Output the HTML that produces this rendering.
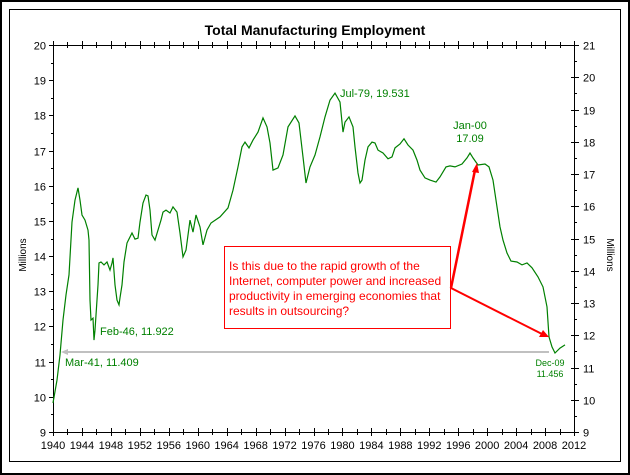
<!DOCTYPE html>
<html><head><meta charset="utf-8">
<style>
html,body{margin:0;padding:0;background:#fff;}
svg{display:block;font-family:"Liberation Sans",Arial,sans-serif;}
</style></head>
<body>
<svg id="chart" width="630" height="475" viewBox="0 0 630 475">
  <rect x="1" y="1" width="628" height="473" fill="#fff" stroke="#000" stroke-width="2"/>
  <rect x="9.5" y="9.5" width="611" height="452" fill="#fff" stroke="#000" stroke-width="1"/>
  <text x="315" y="35" text-anchor="middle" font-size="14" font-weight="bold">Total Manufacturing Employment</text>
  <text transform="translate(26,255) rotate(-90)" text-anchor="middle" font-size="10">Millions</text>
  <text transform="translate(607,255) rotate(90)" text-anchor="middle" font-size="10">Millions</text>
  <g id="axes"></g>
  <path id="series" fill="none" stroke="#008000" stroke-width="1.2"/>
  <g id="annot">
    <line x1="66" y1="352" x2="549" y2="352" stroke="#c0c0c0" stroke-width="2"/>
    <polygon points="61,352 68,349 68,355" fill="#c0c0c0"/>
    <text x="65" y="366" font-size="11" fill="#008000">Mar-41, 11.409</text>
    <text x="100" y="335" font-size="11" fill="#008000">Feb-46, 11.922</text>
    <text x="340" y="97" font-size="11" fill="#008000">Jul-79, 19.531</text>
    <text x="470" y="129" font-size="11" fill="#008000" text-anchor="middle">Jan-00</text>
    <text x="470" y="142" font-size="11" fill="#008000" text-anchor="middle">17.09</text>
    <text x="550" y="366" font-size="9" fill="#008000" text-anchor="middle">Dec-09</text>
    <text x="550" y="377" font-size="9" fill="#008000" text-anchor="middle">11.456</text>
    <rect x="224.5" y="246.5" width="226" height="82" fill="#fff" stroke="#ff0000" stroke-width="1"/>
    <text font-size="12" fill="#ff0000">
      <tspan x="229" y="270">Is this due to the rapid growth of the</tspan>
      <tspan x="229" y="285">Internet, computer power and increased</tspan>
      <tspan x="229" y="300">productivity in emerging economies that</tspan>
      <tspan x="229" y="315">results in outsourcing?</tspan>
    </text>
    <line x1="451" y1="288" x2="475" y2="170" stroke="#ff0000" stroke-width="2.5"/>
    <polygon points="477,163 472,172 479,173" fill="#ff0000"/>
    <line x1="451" y1="288" x2="542" y2="334" stroke="#ff0000" stroke-width="2"/>
    <polygon points="549,337 539,337 543,330" fill="#ff0000"/>
  </g>
</svg>
<script>
const years = [1940.0,1940.55,1940.97,1941.38,1941.8,1942.21,1942.63,1943.04,1943.46,1943.73,1944.01,1944.42,1944.84,1944.98,1945.11,1945.25,1945.53,1945.67,1945.8,1946.22,1946.36,1946.63,1947.05,1947.46,1947.88,1948.15,1948.29,1948.57,1948.84,1949.12,1949.26,1949.54,1949.81,1950.23,1950.92,1951.33,1951.75,1952.02,1952.44,1952.85,1953.13,1953.41,1953.68,1954.1,1954.51,1954.93,1955.2,1955.62,
1956.17,1956.58,1957.14,1957.55,1957.97,1958.38,1958.93,1959.35,1959.76,1960.32,1960.73,1961.28,1961.84,1963.08,1964.18,1964.88,1965.57,1966.12,1966.53,1967.09,1967.64,1968.33,1969.02,1969.57,1969.99,1970.4,1971.09,1971.79,1972.48,1973.44,1974.0,1974.55,1974.96,1975.52,1976.21,1976.9,1977.59,1978.28,1978.97,1979.66,1980.08,1980.35,1980.91,1981.46,1981.74,1982.15,1982.43,1982.7,1983.12,1983.53,1984.09,1984.5,1984.91,1985.61,1986.3,1986.85,1987.26,1987.95,1988.51,1989.06,1989.75,1990.3,1990.72,1991.41,1992.1,1992.93,1993.48,1994.31,1994.86,1995.56,1996.52,1997.21,1997.63,1998.04,1998.73,1999.7,2000.25,2000.81,2001.36,2001.78,2002.19,2002.74,2003.3,2004.12,2004.82,2005.51,2006.2,2007.03,2007.72,2008.27,2008.55,2008.96,2009.38,2010.07,2010.76];
const employment = [9.9,10.61,11.39,12.47,13.25,13.87,15.51,16.19,16.57,16.19,15.73,15.57,15.26,14.95,13.09,12.47,12.53,11.85,12.16,13.56,14.24,14.27,14.18,14.27,14.02,14.24,14.4,13.56,13.09,12.94,13.16,13.56,14.27,14.86,15.17,14.98,15.01,15.51,16.1,16.35,16.32,15.88,15.11,14.95,15.26,15.57,15.82,15.88,
15.79,15.98,15.82,15.17,14.43,14.64,15.57,15.2,15.73,15.36,14.8,15.26,15.48,15.67,15.95,16.5,17.22,17.84,17.99,17.81,18.05,18.3,18.74,18.46,17.96,17.12,17.19,17.59,18.46,18.8,18.58,17.53,16.72,17.22,17.59,18.15,18.77,19.29,19.51,19.23,18.3,18.61,18.77,18.46,17.84,17.03,16.72,16.81,17.43,17.84,17.99,17.96,17.74,17.65,17.47,17.53,17.81,17.93,18.09,17.9,17.74,17.43,17.12,16.88,16.81,16.75,16.91,17.22,17.25,17.22,17.31,17.5,17.65,17.5,17.28,17.31,17.22,16.81,15.98,15.36,14.95,14.55,14.3,14.27,14.18,14.24,14.09,13.81,13.5,12.88,11.95,11.64,11.45,11.6,11.7];
const xTickLabels = [1940,1944,1948,1952,1956,1960,1964,1968,1972,1976,1980,1984,1988,1992,1996,2000,2004,2008,2012];
const leftTickLabels = [9,10,11,12,13,14,15,16,17,18,19,20];
const rightTickLabels = [9,10,11,12,13,14,15,16,17,18,19,20,21];

const L=53,R=574,T=45,B=432;
const xs = y => L + (y-1940)/(2012-1940)*(R-L);
const yl = v => B - (v-9)/(20-9)*(B-T);
const yr = v => B - (v-9)/(21-9)*(B-T);
const NS='http://www.w3.org/2000/svg';
const ax=document.getElementById('axes');
function ln(x1,y1,x2,y2,name){
  const e=document.createElementNS(NS,'line');
  e.setAttribute('x1',x1);e.setAttribute('y1',y1);e.setAttribute('x2',x2);e.setAttribute('y2',y2);
  e.setAttribute('stroke','#000');e.setAttribute('stroke-width','1');
  
  
  ax.appendChild(e);return e;
}
function tx(x,y,s,anchor,name){
  const e=document.createElementNS(NS,'text');
  e.setAttribute('x',x);e.setAttribute('y',y);e.setAttribute('font-size','11');
  e.setAttribute('text-anchor',anchor);e.textContent=s;
  
  
  ax.appendChild(e);
}
ln(L+.5,T,L+.5,B+.5,'left-axis-line');
ln(R+.5,T,R+.5,B+.5,'right-axis-line');
ln(L,B+.5,R+1,B+.5,'x-axis-line');
ln(L,T+.5,R+1,T+.5,'top-axis-line');
for(let yr2=1940; yr2<=2012; yr2+=2){
  const x=Math.round(xs(yr2))+.5, major=(yr2-1940)%4===0;
  const len=major?4:3;
  ln(x,B-len,x,B+len,'x-tick');
  ln(x,T-len,x,T+len,'top-tick');
}
xTickLabels.forEach(v=>tx(xs(v),B+17,String(v),'middle','x-tick-label'));
leftTickLabels.forEach(v=>{const y=Math.round(yl(v))+.5;ln(L-4,y,L+1,y,'left-tick');tx(L-7,y+4,String(v),'end','left-tick-label');
  if(v<20){const m=Math.round(yl(v+.5))+.5;ln(L-2,m,L+1,m,'left-minor-tick');}});
rightTickLabels.forEach(v=>{const y=Math.round(yr(v))+.5;ln(R-3,y,R+5,y,'right-tick');tx(R+9,y+4,String(v),'start','right-tick-label');
  if(v<21){const m=Math.round(yr(v+.5))+.5;ln(R,m,R+3,m,'right-minor-tick');}});
let d='';
years.forEach((y,i)=>{d+=(i?'L':'M')+xs(y).toFixed(1)+','+yr(employment[i]).toFixed(1);});
document.getElementById('series').setAttribute('d',d);
</script>
</body></html>
